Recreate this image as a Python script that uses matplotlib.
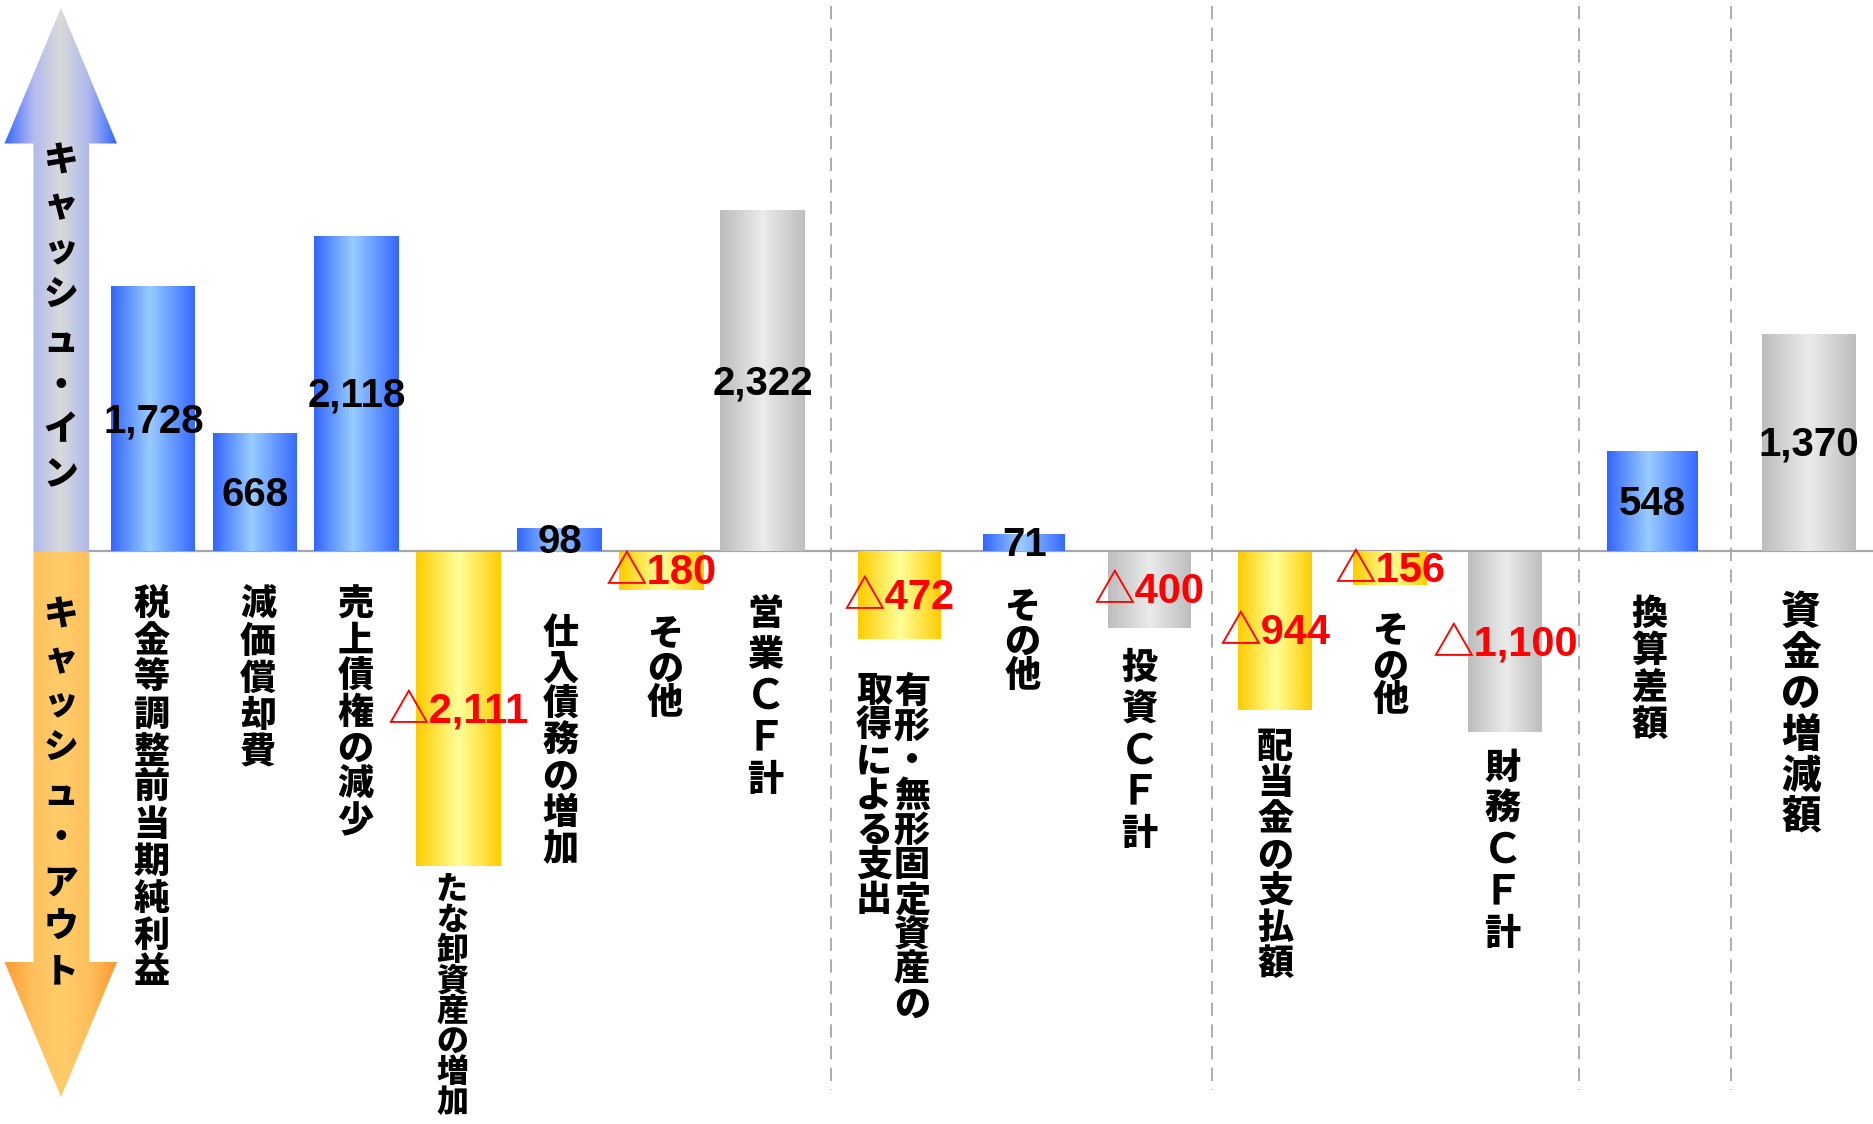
import numpy as np
import matplotlib
matplotlib.use('Agg')
import matplotlib.pyplot as plt
from matplotlib.patches import Polygon
from matplotlib.colors import to_rgb

# ---------------- data ----------------
categories = ['税金等調整前当期純利益', '減価償却費', '売上債権の減少', 'たな卸資産の増加',
              '仕入債務の増加', 'その他', '営業ＣＦ計',
              '有形・無形固定資産の\n取得による支出', 'その他', '投資ＣＦ計',
              '配当金の支払額', 'その他', '財務ＣＦ計',
              '換算差額', '資金の増減額']
values = [1728, 668, 2118, -2111, 98, -180, 2322, -472, 71, -400, -944, -156, -1100, 548, 1370]
is_total = [False, False, False, False, False, False, True,
            False, False, True,
            False, False, True,
            False, True]
groups = [0, 0, 0, 0, 0, 0, 0, 1, 1, 1, 2, 2, 2, 3, 4]
arrow_in_text = 'キャッシュ・イン'
arrow_out_text = 'キャッシュ・アウト'

# ---------------- layout ----------------
W, H = 1874, 1124
ZERO_PX = 551          # zero line, px from top
K = 0.47               # px per scaled unit
P = 0.85               # power of the value scale
group_mid = [458.1, 1024.3, 1390.2, 1652.5, 1809.0]
group_step = [101.5, 125.25, 115.0, 0.0, 0.0]
group_width = [85, 83, 74, 91, 94]
label_gap = [35, 35, 35, 8, 64, 28, 42, 35, 40, 20, 19, 30, 15, 44, 41]
label_dx = [-2, 3, -1, -6, 1, 4, 3, -6, -2, -10, 0, 0, -3, -3, -8]
label_size = [26, 26, 26, 23, 26, 26, 26, 26, 26, 26, 26, 26, 26, 26, 28.5]
label_pitch = [36.8, 37, 36.2, 30.5, 36, 34, 41.5, 34.8, 34, 41.5, 36.2, 34, 41.5, 37, 41]
col_sep = 38
wide_latin = 'ＣＦ'

cjk = ['Noto Sans CJK JP', 'DejaVu Sans']
num_font = ['Liberation Sans', 'Noto Sans CJK JP', 'DejaVu Sans']

fig = plt.figure(figsize=(W / 100, H / 100), dpi=100)
fig.patch.set_facecolor('white')
ax = fig.add_axes([0, 0, 1, 1], label='main')


def fwd(v):
    v = np.asarray(v, dtype=float)
    return np.sign(v) * np.abs(v) ** P


def inv(u):
    u = np.asarray(u, dtype=float)
    return np.sign(u) * np.abs(u) ** (1 / P)


ax.set_yscale('function', functions=(fwd, inv))
ylim = (float(inv(-(H - ZERO_PX) / K)), float(inv(ZERO_PX / K)))
ax.set_xlim(0, W)
ax.set_ylim(*ylim)
ax.axis('off')

# bar positions from group structure
xc = []
for i, g in enumerate(groups):
    members = [j for j, gg in enumerate(groups) if gg == g]
    k = members.index(i)
    n = len(members)
    xc.append(group_mid[g] + (k - (n - 1) / 2) * group_step[g])
widths = [group_width[g] for g in groups]


def grad_img(stops):
    xs = np.linspace(0, 1, 256)
    pos = [p for p, _ in stops]
    cols = np.array([to_rgb(c) for _, c in stops])
    img = np.stack([np.interp(xs, pos, cols[:, c]) for c in range(3)], axis=-1)
    return img[np.newaxis, :, :]


blue = grad_img([(0, '#3366FF'), (0.45, '#99CCFF'), (1, '#3366FF')])
yellow = grad_img([(0, '#FFCC00'), (0.5, '#FFFF99'), (1, '#FFCC00')])
gray = grad_img([(0, '#BDBDBD'), (0.5, '#EBEBEB'), (1, '#BDBDBD')])

ax.axhline(0, xmin=89 / W, xmax=1, color='#A6A6A6', lw=1.6, zorder=1)

bars = ax.bar(xc, values, width=widths, color='none', edgecolor='none', zorder=2)
for b, v, tot in zip(bars, values, is_total):
    img = gray if tot else (blue if v > 0 else yellow)
    x0 = b.get_x()
    x1 = x0 + b.get_width()
    y0, y1 = sorted([b.get_y(), b.get_y() + b.get_height()])
    im = ax.imshow(img, extent=(x0, x1, y0, y1), aspect='auto',
                   interpolation='bilinear', zorder=2)
    im.set_clip_path(b)
ax.set_xlim(0, W)
ax.set_ylim(*ylim)

# value labels at bar midpoint (in scaled space)
for x, v in zip(xc, values):
    ymid = float(inv(fwd(v) / 2))
    txt = f'{v:,}' if v > 0 else f'△{-v:,}'
    ax.annotate(txt, (x, ymid), xytext=(0, -2), textcoords='offset points',
                ha='center', va='center', fontsize=29 if v > 0 else 30, fontweight='bold',
                color='black' if v > 0 else '#FF0000', family=num_font, zorder=5)

# ---------------- overlay in pixel coords ----------------
ax2 = fig.add_axes([0, 0, 1, 1], label='overlay')
ax2.set_xlim(0, W)
ax2.set_ylim(H, 0)
ax2.axis('off')
ax2.patch.set_visible(False)

# group separators
for g in range(len(group_mid) - 1):
    right = max(x for x, gg in zip(xc, groups) if gg == g)
    left = min(x for x, gg in zip(xc, groups) if gg == g + 1)
    sx = (right + left) / 2
    ax2.plot([sx, sx], [6, 1090], color='#A0A0A0', lw=1.2, ls=(0, (8, 5)), zorder=1)

# big arrows
up_poly = [(33.5, 552), (33.5, 143.5), (4.5, 143.5), (61, 8), (117, 143.5), (89, 143.5), (89, 552)]
dn_poly = [(33.5, 552), (33.5, 962), (4.5, 962), (61, 1097), (117, 962), (89, 962), (89, 552)]
up_grad = grad_img([(0, '#3366FF'), (0.25, '#AEB8EE'), (0.5, '#DADADA'), (0.75, '#AEB8EE'), (1, '#3366FF')])
dn_grad = grad_img([(0, '#FF9933'), (0.25, '#FFC05C'), (0.5, '#FFCC6A'), (0.75, '#FFC05C'), (1, '#FF9933')])
for poly, gimg, (ya, yb) in [(up_poly, up_grad, (8, 552)), (dn_poly, dn_grad, (552, 1097))]:
    patch = Polygon(poly, closed=True, facecolor='none', edgecolor='none')
    ax2.add_patch(patch)
    im = ax2.imshow(gimg, extent=(4.5, 117, yb, ya), aspect='auto',
                    interpolation='bilinear', zorder=2)
    im.set_clip_path(patch)
ax2.set_xlim(0, W)
ax2.set_ylim(H, 0)

for text, c0, pitch in [(arrow_in_text, 161, 44.8), (arrow_out_text, 615, 44.6)]:
    for k, ch in enumerate(text):
        ax2.text(61, c0 + k * pitch, ch, ha='center', va='center', fontsize=25,
                 fontweight='heavy', family=cjk, color='black', zorder=4)

# category labels (vertical)
for i, (lab, x, v) in enumerate(zip(categories, xc, values)):
    end_px = H - ax.transData.transform((x, v))[1]
    top = max(ZERO_PX, end_px) + label_gap[i]
    cols = lab.split('\n')
    ncol = len(cols)
    for c, col in enumerate(cols):
        cx = x + label_dx[i] + ((ncol - 1) / 2 - c) * col_sep
        for k, ch in enumerate(col):
            big = ch in wide_latin
            ax2.text(cx, top + (k + 0.5) * label_pitch[i], ch, ha='center', va='center',
                     fontsize=label_size[i] * (1.15 if big else 1.0),
                     fontweight='bold' if big else 'heavy', family=cjk,
                     color='black', zorder=4)

fig.savefig('out.png', dpi=100, facecolor='white')
